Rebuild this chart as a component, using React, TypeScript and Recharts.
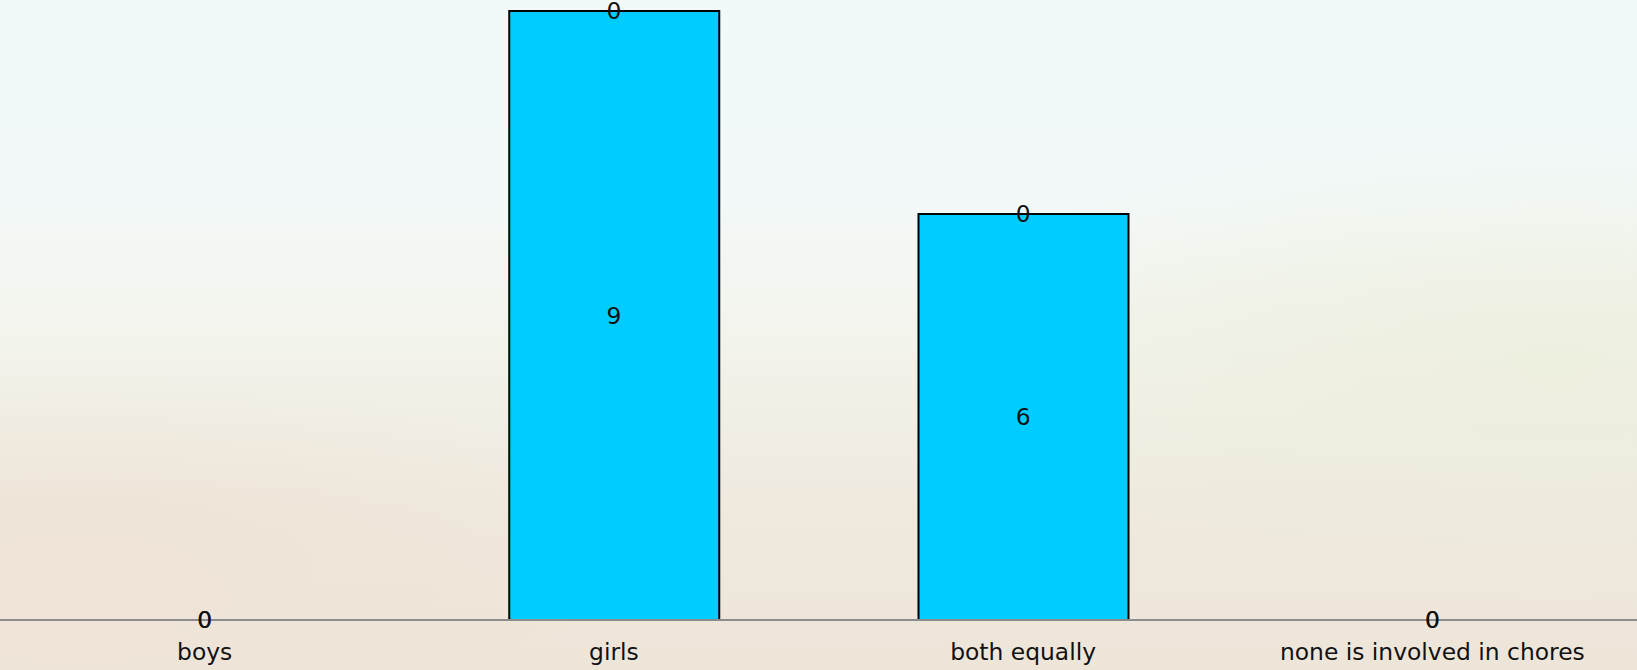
import React from "react";
import { ComposedChart, Bar, Line, XAxis, YAxis, LabelList } from "recharts";

const categories = ["boys", "girls", "both equally", "none is involved in chores"];
const countValues = [0, 9, 6, 0];
const topValues = [0, 0, 0, 0];

const data = categories.map((name, i) => ({
  name,
  count: countValues[i],
  top: topValues[i],
}));

const FONT = "'DejaVu Sans', sans-serif";
const FS = 23.4;

export default function App() {
  return (
    <div
      style={{
        position: "absolute",
        left: 0,
        top: 0,
        width: 1637,
        height: 670,
        overflow: "hidden",
        background:
          "radial-gradient(ellipse 40% 35% at 95% 55%, rgba(236,238,220,0.8), rgba(236,238,220,0) 100%), radial-gradient(ellipse 35% 30% at 5% 85%, rgba(238,226,212,0.8), rgba(238,226,212,0) 100%), linear-gradient(180deg, #f1f9fa 0%, #f3f9f8 30%, #f3f4ec 50%, #efe9de 75%, #eee5d9 100%)",
      }}
    >
      <ComposedChart
        width={1637}
        height={670}
        data={data}
        margin={{ top: 11, right: 0, bottom: 0, left: 0 }}
        barSize={210}
      >
        <XAxis
          dataKey="name"
          height={50}
          tickLine={false}
          tickSize={0}
          tickMargin={23}
          axisLine={{ stroke: "#8c8c8c", strokeWidth: 2 }}
          tick={{ fill: "#111", fontSize: FS, fontFamily: FONT }}
          interval={0}
        />
        <YAxis hide domain={[0, 9]} />
        <Bar dataKey="count" stackId="a" fill="#00ccff" stroke="#000" strokeWidth={2} isAnimationActive={false} />
        <Bar dataKey="top" stackId="a" fill="#00ccff" stroke="#000" strokeWidth={2} isAnimationActive={false} />
        <Line
          dataKey={(d: any) => d.count / 2}
          stroke="none"
          dot={false}
          activeDot={false}
          isAnimationActive={false}
        >
          <LabelList dataKey="count" position="center" fill="#111" fontSize={FS} fontFamily={FONT} />
        </Line>
        <Line
          dataKey={(d: any) => d.count + d.top}
          stroke="none"
          dot={false}
          activeDot={false}
          isAnimationActive={false}
        >
          <LabelList dataKey="top" position="center" fill="#111" fontSize={FS} fontFamily={FONT} />
        </Line>
      </ComposedChart>
    </div>
  );
}
